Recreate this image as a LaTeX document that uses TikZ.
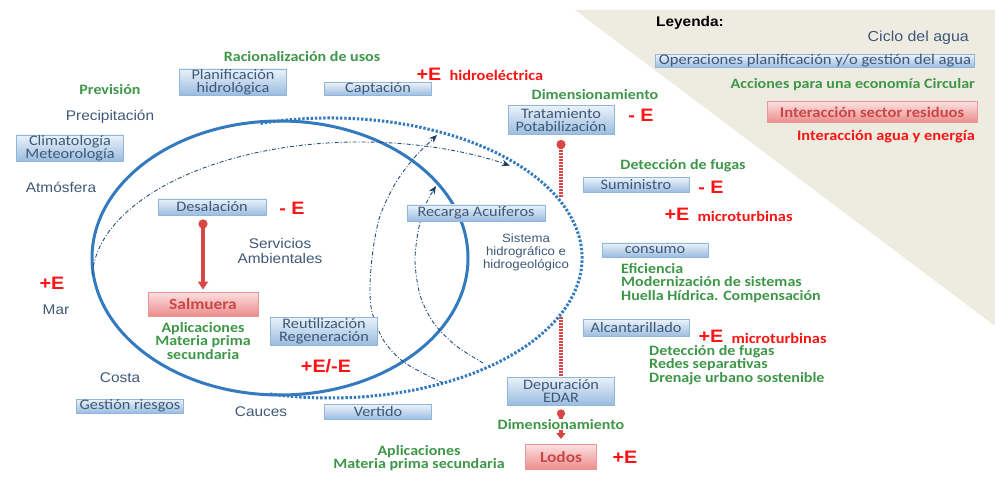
\documentclass[tikz,border=0pt]{standalone}
\usepackage{fontspec}
\setmainfont{Carlito}[FakeStretch=1.12]
\newfontfamily\arialfam{Liberation Sans}[FakeStretch=1.1]
\usetikzlibrary{arrows.meta}
\definecolor{cycleblue}{RGB}{52,122,190}
\definecolor{cycletext}{RGB}{62,88,118}
\definecolor{boxtext}{RGB}{62,88,120}
\definecolor{boxtop}{RGB}{234,242,250}
\definecolor{boxbot}{RGB}{155,188,223}
\definecolor{boxline}{RGB}{145,182,220}
\definecolor{ecogreen}{RGB}{62,150,72}
\definecolor{energyred}{RGB}{250,20,20}
\definecolor{wastetop}{RGB}{252,224,224}
\definecolor{wastebot}{RGB}{236,140,140}
\definecolor{wasteline}{RGB}{232,150,150}
\definecolor{wastetext}{RGB}{200,72,72}
\definecolor{wastearrow}{RGB}{216,70,70}
\definecolor{legendbg}{RGB}{238,235,225}
\definecolor{tipnavy}{RGB}{28,58,98}
\begin{document}
\begin{tikzpicture}[x=1pt,y=-1pt,
  opbox/.style={draw=boxline, line width=0.9pt, top color=boxtop, bottom color=boxbot,
    text=boxtext, font=\fontsize{14.5}{13.5}\selectfont, inner sep=0pt, align=center,
    minimum width=107pt},
  wastebox/.style={draw=wasteline, line width=0.9pt, top color=wastetop, bottom color=wastebot,
    text=wastetext, font=\bfseries\fontsize{15.5}{15}\selectfont, inner sep=0pt, align=center},
  ecotext/.style={text=ecogreen, font=\bfseries\fontsize{14.3}{13.5}\selectfont, inner sep=0pt, align=center},
  cyclelabel/.style={text=cycletext, font=\arialfam\fontsize{14}{15}\selectfont, inner sep=0pt, align=center},
  energy/.style={text=energyred, font=\arialfam\bfseries\fontsize{18}{18}\selectfont, inner sep=0pt},
  energysmall/.style={text=energyred, font=\bfseries\fontsize{14.6}{14}\selectfont},
  cyclesolid/.style={draw=cycleblue, line width=3pt},
  cycledotted/.style={draw=cycleblue, line width=3pt, dash pattern=on 2.4pt off 1.8pt},
  flowline/.style={draw=cycleblue!65!black, line width=0.9pt, dash pattern=on 4pt off 2pt on 1pt off 2pt,
    -{Stealth[length=8pt,width=6.5pt,color=tipnavy]}},
  redsolid/.style={draw=wastearrow, line width=3.2pt},
  reddotted/.style={draw=wastearrow, line width=3.2pt, dash pattern=on 1.6pt off 1.4pt}
]
\useasboundingbox (0,0) rectangle (995,478);
% legend background
\fill[legendbg] (575,10) -- (995,10) -- (995,326) -- cycle;

% water cycle loops
\draw[cyclesolid] (280,258) ellipse [x radius=188, y radius=137];
\draw[cycledotted] (330,258) ++(-106:252 and 140) arc[start angle=-106, end angle=104, x radius=252, y radius=140];
\draw[flowline] (360,280) ++(182:268 and 138) arc[start angle=182, end angle=304, x radius=268, y radius=138];
\draw[flowline] plot[smooth] coordinates {(443,383) (405,363) (384,341) (372,312) (370,285) (373,250) (380,216) (395,184) (414,158) (437,135)};
\draw[flowline] plot[smooth] coordinates {(483,363) (455,345) (433,322) (420,295) (415,262) (418,232) (425,206) (436,186)};

% operation boxes
\node[opbox, minimum height=26pt] (plan) at (233,82) {Planificación\\hidrológica};
\node[opbox, minimum height=13pt] (capt) at (378,89) {Captación};
\node[opbox, minimum height=24pt] (clim) at (70,148) {Climatología\\Meteorología};
\node[opbox, minimum height=16pt, minimum width=108pt] (desal) at (212,207) {Desalación};
\node[opbox, minimum height=28pt] (reut) at (324,331) {Reutilización\\Regeneración};
\node[opbox, minimum height=14pt] (gest) at (130,406) {Gestión riesgos};
\node[opbox, minimum height=15pt] (vert) at (378,412) {Vertido};
\node[opbox, minimum height=16pt, minimum width=138pt] (recar) at (476,213) {Recarga Acuiferos};
\node[opbox, minimum height=29pt, minimum width=106pt] (trat) at (561,120) {Tratamiento\\Potabilización};
\node[opbox, minimum height=15pt, minimum width=106pt] (sumi) at (636,185) {Suministro};
\node[opbox, minimum height=14pt, minimum width=106pt] (cons) at (655,250) {consumo};
\node[opbox, minimum height=17pt, minimum width=106pt] (alca) at (636,328) {Alcantarillado};
\node[opbox, minimum height=28pt] (depu) at (561,391) {Depuración\\EDAR};

% waste boxes
\node[wastebox, minimum width=110pt, minimum height=24pt] (salm) at (203,304) {Salmuera};
\node[wastebox, minimum width=71pt, minimum height=25pt] (lodos) at (561,457) {Lodos};

% red connectors
\draw[redsolid, {Circle[length=9pt]}-{Triangle[length=8pt,width=10pt]}, shorten <=4pt, shorten >=2pt]
  (salm.north |- desal.south) -- (salm.north);
\coordinate (potA) at (561,197);
\coordinate (potB) at (561,317);
\draw[reddotted, {Circle[length=9pt]}-, shorten <=5pt] (trat.south) -- (potA);
\draw[reddotted] (potB) -- (depu.north);
\draw[redsolid, {Circle[length=8pt]}-{Triangle[length=6pt,width=9pt]}, shorten <=4pt, shorten >=5pt]
  (depu.south) -- node[ecotext, fill=white, inner sep=0.5pt] (dim2) {Dimensionamiento} (lodos.north);

% cycle labels
\node[cyclelabel] (precip) at (110,117) {Precipitación};
\node[cyclelabel] (atmos) at (61,187) {Atmósfera};
\node[cyclelabel] (servic) at (280,251) {Servicios\\Ambientales};
\node[cyclelabel] (mar) at (56,310) {Mar};
\node[cyclelabel] (costa) at (120,378) {Costa};
\node[cyclelabel] (cauces) at (261,412) {Cauces};
\node[cyclelabel, font=\arialfam\fontsize{12}{13}\selectfont] (sist) at (526,252) {Sistema\\hidrográfico e\\hidrogeológico};

% circular-economy actions
\node[ecotext] (racion) at (302,57) {Racionalización de usos};
\node[ecotext] (prev) at (110,90) {Previsión};
\node[ecotext] (aplic1) at (203,341) {Aplicaciones\\Materia prima\\secundaria};
\node[ecotext] (dim1) at (595,95) {Dimensionamiento};
\node[ecotext] (detec1) at (683,166) {Detección de fugas};
\node[ecotext, align=left, anchor=west] (effic) at (621,283) {Eficiencia\\Modernización de sistemas\\Huella Hídrica. Compensación};
\node[ecotext, align=left, anchor=west] (detec2) at (649,365) {Detección de fugas\\Redes separativas\\Drenaje urbano sostenible};
\node[ecotext] (aplic2) at (419,458) {Aplicaciones\\Materia prima secundaria};

% water-energy interactions
\node[energy] (hidroE) at (429,74) {+E};
\node[energysmall, anchor=west] (hidro) at (446,75) {hidroeléctrica};
\node[energy] (desalE) at (292,208) {- E};
\node[energy] (marE) at (52,283) {+E};
\node[energy] (reutE) at (326,366) {+E/-E};
\node[energy] (tratE) at (641,115) {- E};
\node[energy] (sumiE) at (711,187) {- E};
\node[energy] (microE1) at (677,214) {+E};
\node[energysmall, anchor=west] (micro1) at (694,216) {microturbinas};
\node[energy] (microE2) at (711,336) {+E};
\node[energysmall, anchor=west] (micro2) at (728,338) {microturbinas};
\node[energy] (lodosE) at (625,457) {+E};

% legend
\node[anchor=west, font=\arialfam\bfseries\fontsize{14}{14}\selectfont, inner sep=0pt] (ley) at (656,23) {Leyenda:};
\node[cyclelabel, anchor=east, font=\arialfam\fontsize{14.5}{15}\selectfont] (legcycle) at (969,38) {Ciclo del agua};
\node[opbox, minimum width=319pt, minimum height=13pt, font=\fontsize{14.8}{14}\selectfont] (legop) at (815,61) {Operaciones planificación y/o gestión del agua};
\node[ecotext, anchor=east] (legeco) at (975,85) {Acciones para una economía Circular};
\node[wastebox, minimum width=210pt, minimum height=21pt, font=\bfseries\fontsize{14.8}{14}\selectfont] (legwaste) at (872,112) {Interacción sector residuos};
\node[energysmall, anchor=east, inner sep=0pt] (legenergy) at (975,137) {Interacción agua y energía};
\end{tikzpicture}
\end{document}
